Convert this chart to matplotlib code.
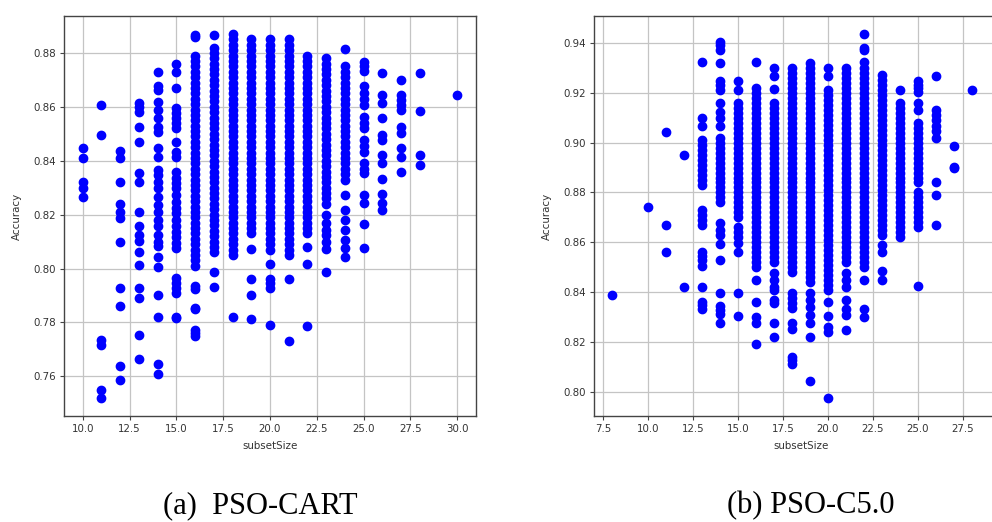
import numpy as np
import matplotlib
matplotlib.use('Agg')
import matplotlib.pyplot as plt

# accuracy of every run, grouped by subset size
# --- PSO-CART ---
cart_10 = [0.8446, 0.8409, 0.8320, 0.8298, 0.8264]
cart_11 = [0.8606, 0.8495, 0.7735, 0.7718, 0.7550, 0.7520]
cart_12 = [0.8437, 0.8410, 0.8322, 0.8240, 0.8211, 0.8187, 0.8100, 0.7927,
           0.7862, 0.7640, 0.7585]
cart_13 = [0.8615, 0.8598, 0.8582, 0.8526, 0.8470, 0.8353, 0.8322, 0.8209,
           0.8156, 0.8125, 0.8104, 0.8063, 0.8014, 0.7927, 0.7890, 0.7754, 0.7664]
cart_14 = [0.8730, 0.8677, 0.8662, 0.8619, 0.8588, 0.8557, 0.8526, 0.8507,
           0.8446, 0.8415, 0.8366, 0.8347, 0.8322, 0.8298, 0.8267, 0.8236,
           0.8211, 0.8180, 0.8156, 0.8125, 0.8100, 0.8082, 0.8044, 0.8007,
           0.7903, 0.7822, 0.7646, 0.7609]
cart_15 = [0.8758, 0.8730, 0.8668, 0.8594, 0.8576, 0.8557, 0.8539, 0.8520,
           0.8470, 0.8433, 0.8415, 0.8360, 0.8335, 0.8316, 0.8298, 0.8273,
           0.8248, 0.8224, 0.8205, 0.8180, 0.8156, 0.8136, 0.8117, 0.8095,
           0.8076, 0.7964, 0.7946, 0.7927, 0.7909, 0.7822, 0.7815]
cart_16 = [0.8866, 0.8860,
           0.879, 0.877, 0.875, 0.873, 0.871, 0.869, 0.867, 0.865, 0.863,
           0.861, 0.859, 0.857, 0.855, 0.853, 0.851, 0.849, 0.847, 0.845,
           0.843, 0.841, 0.839, 0.837, 0.835, 0.833, 0.831, 0.829, 0.827,
           0.825, 0.823, 0.821, 0.819, 0.817, 0.815, 0.813, 0.811, 0.809,
           0.807, 0.805, 0.803, 0.801,
           0.7935, 0.7925, 0.7853, 0.7850, 0.7773, 0.7762, 0.7750]
cart_17 = [0.8866,
           0.882, 0.880, 0.878, 0.876, 0.874, 0.872, 0.870, 0.868, 0.866,
           0.864, 0.862, 0.860, 0.858, 0.856, 0.854, 0.852, 0.850, 0.848,
           0.846, 0.844, 0.842, 0.840, 0.838, 0.836, 0.834, 0.832, 0.830,
           0.828, 0.826, 0.824, 0.822, 0.820, 0.818, 0.816, 0.814, 0.812,
           0.810, 0.808, 0.806,
           0.7989, 0.7933]
cart_18 = [0.887, 0.885, 0.883, 0.881, 0.879, 0.877, 0.875, 0.873, 0.871,
           0.869, 0.867, 0.865, 0.863, 0.861, 0.859, 0.857, 0.855, 0.853,
           0.851, 0.849, 0.847, 0.845, 0.843, 0.841, 0.839, 0.837, 0.835,
           0.833, 0.831, 0.829, 0.827, 0.825, 0.823, 0.821, 0.819, 0.817,
           0.815, 0.813, 0.811, 0.809, 0.807, 0.805,
           0.782]
cart_19 = [0.885, 0.883, 0.881, 0.879, 0.877, 0.875, 0.873, 0.871, 0.869,
           0.867, 0.865, 0.863, 0.861, 0.859, 0.857, 0.855, 0.853, 0.851,
           0.849, 0.847, 0.845, 0.843, 0.841, 0.839, 0.837, 0.835, 0.833,
           0.831, 0.829, 0.827, 0.825, 0.823, 0.821, 0.819, 0.817, 0.815,
           0.813,
           0.8072, 0.7961, 0.7903, 0.7813]
cart_20 = [0.885, 0.883, 0.881, 0.879, 0.877, 0.875, 0.873, 0.871, 0.869,
           0.867, 0.865, 0.863, 0.861, 0.859, 0.857, 0.855, 0.853, 0.851,
           0.849, 0.847, 0.845, 0.843, 0.841, 0.839, 0.837, 0.835, 0.833,
           0.831, 0.829, 0.827, 0.825, 0.823, 0.821, 0.819, 0.817, 0.815,
           0.813, 0.811, 0.809, 0.807,
           0.8017, 0.7961, 0.7946, 0.7927, 0.7790]
cart_21 = [0.885, 0.883, 0.881, 0.879, 0.877, 0.875, 0.873, 0.871, 0.869,
           0.867, 0.865, 0.863, 0.861, 0.859, 0.857, 0.855, 0.853, 0.851,
           0.849, 0.847, 0.845, 0.843, 0.841, 0.839, 0.837, 0.835, 0.833,
           0.831, 0.829, 0.827, 0.825, 0.823, 0.821, 0.819, 0.817, 0.815,
           0.813, 0.811, 0.809, 0.807, 0.805,
           0.7961, 0.7730]
cart_22 = [0.879, 0.877, 0.875, 0.873, 0.871, 0.869, 0.867, 0.865, 0.863,
           0.861, 0.859, 0.857, 0.855, 0.853, 0.851, 0.849, 0.847, 0.845,
           0.843, 0.841, 0.839, 0.837, 0.835, 0.833, 0.831, 0.829, 0.827,
           0.825, 0.823, 0.821, 0.819, 0.817, 0.815, 0.813,
           0.8079, 0.8017, 0.7785]
cart_23 = [0.878, 0.876, 0.874, 0.872, 0.870, 0.868, 0.866, 0.864, 0.862,
           0.860, 0.858, 0.856, 0.854, 0.852, 0.850, 0.848, 0.846, 0.844,
           0.842, 0.840, 0.838, 0.836, 0.834, 0.832, 0.830, 0.828, 0.826,
           0.824, 0.8200, 0.8170, 0.8143, 0.8125, 0.8100,
           0.8072, 0.7989]
cart_24 = [0.8813,
           0.875, 0.873, 0.871, 0.869, 0.867, 0.865, 0.863, 0.861, 0.859,
           0.857, 0.855, 0.853, 0.851, 0.849, 0.847, 0.845, 0.843, 0.841,
           0.839, 0.837, 0.835, 0.833,
           0.8273, 0.8217, 0.8180, 0.8143, 0.8106, 0.8076, 0.8044]
cart_25 = [0.8767, 0.8750, 0.8733, 0.8677, 0.8650, 0.8628, 0.8606, 0.8563,
           0.8541, 0.8520, 0.8477, 0.8455, 0.8433, 0.8390, 0.8371, 0.8353,
           0.8273, 0.8244, 0.8164, 0.8076]
cart_26 = [0.8726, 0.8643, 0.8613, 0.8557, 0.8495, 0.8477, 0.8421, 0.8390,
           0.8331, 0.8276, 0.8244, 0.8217]
cart_27 = [0.8699, 0.8643, 0.8625, 0.8606, 0.8588, 0.8526, 0.8501, 0.8446,
           0.8415, 0.8359]
cart_28 = [0.8726, 0.8585, 0.8421, 0.8384]
cart_30 = [0.8643]

cart_sizes = [10, 11, 12, 13, 14, 15, 16, 17, 18, 19, 20, 21, 22, 23, 24,
              25, 26, 27, 28, 30]
cart_acc = [cart_10, cart_11, cart_12, cart_13, cart_14, cart_15, cart_16,
            cart_17, cart_18, cart_19, cart_20, cart_21, cart_22, cart_23,
            cart_24, cart_25, cart_26, cart_27, cart_28, cart_30]

# --- PSO-C5.0 ---
c50_8 = [0.8388]
c50_10 = [0.8741]
c50_11 = [0.9041, 0.8668, 0.8562]
c50_12 = [0.8951, 0.8419]
c50_13 = [0.9326, 0.9099, 0.9065, 0.9011, 0.8991, 0.8971, 0.8951, 0.8931,
          0.8911, 0.8890, 0.8870, 0.8850, 0.8830, 0.8730, 0.8710, 0.8690,
          0.8670, 0.8562, 0.8545, 0.8529, 0.8505, 0.8419, 0.8361, 0.8348, 0.8331]
c50_14 = [0.9406, 0.9393, 0.9373, 0.9322, 0.9246, 0.9232, 0.9212, 0.9159,
          0.9125, 0.9099, 0.9065,
          0.902, 0.900, 0.898, 0.896, 0.894, 0.892, 0.890, 0.888, 0.886,
          0.884, 0.882, 0.880, 0.878, 0.876,
          0.8676, 0.8650, 0.8630, 0.8593, 0.8529, 0.8395, 0.8344, 0.8328,
          0.8312, 0.8277]
c50_15 = [0.9246, 0.9212,
          0.916, 0.914, 0.912, 0.910, 0.908, 0.906, 0.904, 0.902, 0.900,
          0.898, 0.896, 0.894, 0.892, 0.890, 0.888, 0.886, 0.884, 0.882,
          0.880, 0.878, 0.876, 0.874, 0.872, 0.870,
          0.8663, 0.8643, 0.8623, 0.8596, 0.8562, 0.8395, 0.8305]
c50_16 = [0.9326,
          0.922, 0.920, 0.918, 0.916, 0.914, 0.912, 0.910, 0.908, 0.906,
          0.904, 0.902, 0.900, 0.898, 0.896, 0.894, 0.892, 0.890, 0.888,
          0.886, 0.884, 0.882, 0.880, 0.878, 0.876, 0.874, 0.872, 0.870,
          0.868, 0.866, 0.864, 0.862, 0.860, 0.858, 0.856, 0.854, 0.852,
          0.850,
          0.8449, 0.8361, 0.8301, 0.8275, 0.8191]
c50_17 = [0.9300, 0.9266, 0.9215,
          0.916, 0.914, 0.912, 0.910, 0.908, 0.906, 0.904, 0.902, 0.900,
          0.898, 0.896, 0.894, 0.892, 0.890, 0.888, 0.886, 0.884, 0.882,
          0.880, 0.878, 0.876, 0.874, 0.872, 0.870, 0.868, 0.866, 0.864,
          0.862, 0.860, 0.858, 0.856, 0.854, 0.852,
          0.8476, 0.8449, 0.8422, 0.8408, 0.8368, 0.8355, 0.8277, 0.8218]
c50_18 = [0.930, 0.928, 0.926, 0.924, 0.922, 0.920, 0.918, 0.916, 0.914,
          0.912, 0.910, 0.908, 0.906, 0.904, 0.902, 0.900, 0.898, 0.896,
          0.894, 0.892, 0.890, 0.888, 0.886, 0.884, 0.882, 0.880, 0.878,
          0.876, 0.874, 0.872, 0.870, 0.868, 0.866, 0.864, 0.862, 0.860,
          0.858, 0.856, 0.854, 0.852, 0.850, 0.848,
          0.8398, 0.8375, 0.8355, 0.8335, 0.8275, 0.8251, 0.8140, 0.8127,
          0.8111]
c50_19 = [0.932, 0.930, 0.928, 0.926, 0.924, 0.922, 0.920, 0.918, 0.916,
          0.914, 0.912, 0.910, 0.908, 0.906, 0.904, 0.902, 0.900, 0.898,
          0.896, 0.894, 0.892, 0.890, 0.888, 0.886, 0.884, 0.882, 0.880,
          0.878, 0.876, 0.874, 0.872, 0.870, 0.868, 0.866, 0.864, 0.862,
          0.860, 0.858, 0.856, 0.854, 0.852, 0.850, 0.848, 0.846, 0.844,
          0.8398, 0.8368, 0.8339, 0.8308, 0.8277, 0.8218, 0.8044]
c50_20 = [0.9300, 0.9266,
          0.921, 0.919, 0.917, 0.915, 0.913, 0.911, 0.909, 0.907, 0.905,
          0.903, 0.901, 0.899, 0.897, 0.895, 0.893, 0.891, 0.889, 0.887,
          0.885, 0.883, 0.881, 0.879, 0.877, 0.875, 0.873, 0.871, 0.869,
          0.867, 0.865, 0.863, 0.861, 0.859, 0.857, 0.855, 0.853, 0.851,
          0.849, 0.847, 0.845, 0.843, 0.841,
          0.8361, 0.8305, 0.8259, 0.8241, 0.7976]
c50_21 = [0.930, 0.928, 0.926, 0.924, 0.922, 0.920, 0.918, 0.916, 0.914,
          0.912, 0.910, 0.908, 0.906, 0.904, 0.902, 0.900, 0.898, 0.896,
          0.894, 0.892, 0.890, 0.888, 0.886, 0.884, 0.882, 0.880, 0.878,
          0.876, 0.874, 0.872, 0.870, 0.868, 0.866, 0.864, 0.862, 0.860,
          0.858, 0.856, 0.854, 0.852,
          0.8476, 0.8449, 0.8422, 0.8368, 0.8331, 0.8308, 0.8248]
c50_22 = [0.9436, 0.9380, 0.9373, 0.9326,
          0.930, 0.928, 0.926, 0.924, 0.922, 0.920, 0.918, 0.916, 0.914,
          0.912, 0.910, 0.908, 0.906, 0.904, 0.902, 0.900, 0.898, 0.896,
          0.894, 0.892, 0.890, 0.888, 0.886, 0.884, 0.882, 0.880, 0.878,
          0.876, 0.874, 0.872, 0.870, 0.868, 0.866, 0.864, 0.862, 0.860,
          0.858, 0.856, 0.854, 0.852, 0.850,
          0.8449, 0.8331, 0.8301]
c50_23 = [0.927, 0.925, 0.923, 0.921, 0.919, 0.917, 0.915, 0.913, 0.911,
          0.909, 0.907, 0.905, 0.903, 0.901, 0.899, 0.897, 0.895, 0.893,
          0.891, 0.889, 0.887, 0.885, 0.883, 0.881, 0.879, 0.877, 0.875,
          0.873, 0.871, 0.869, 0.867, 0.865, 0.863,
          0.8589, 0.8562, 0.8486, 0.8449]
c50_24 = [0.9210,
          0.916, 0.914, 0.912, 0.910, 0.908, 0.906, 0.904, 0.902, 0.900,
          0.898, 0.896, 0.894, 0.892, 0.890, 0.888, 0.886, 0.884, 0.882,
          0.880, 0.878, 0.876, 0.874, 0.872, 0.870, 0.868, 0.866, 0.864,
          0.862]
c50_25 = [0.9246, 0.9232, 0.9219, 0.9205, 0.9159, 0.9132,
          0.908, 0.906, 0.904, 0.902, 0.900, 0.898, 0.896, 0.894, 0.892,
          0.890, 0.888, 0.886, 0.884,
          0.880, 0.878, 0.876, 0.874, 0.872, 0.870, 0.868, 0.866,
          0.8424]
c50_26 = [0.9269, 0.9132, 0.9112, 0.9092, 0.9065, 0.9045, 0.9020, 0.8844,
          0.8790, 0.8670]
c50_27 = [0.8987, 0.8904, 0.8898]
c50_28 = [0.9210]

c50_sizes = [8, 10, 11, 12, 13, 14, 15, 16, 17, 18, 19, 20, 21, 22, 23, 24,
             25, 26, 27, 28]
c50_acc = [c50_8, c50_10, c50_11, c50_12, c50_13, c50_14, c50_15, c50_16,
           c50_17, c50_18, c50_19, c50_20, c50_21, c50_22, c50_23, c50_24,
           c50_25, c50_26, c50_27, c50_28]

captions = ['(a)  PSO-CART', '(b) PSO-C5.0']

fig = plt.figure(figsize=(9.92, 5.22), dpi=100)
# right panel runs off the right edge, like in the cropped original
ax1 = fig.add_axes([0.0645, 0.2031, 0.4153, 0.7663])
ax2 = fig.add_axes([0.5988, 0.2031, 0.4173, 0.7663])


def draw_panel(ax, sizes, acc, xlim, ylim, xticks, yticks):
    ax.set_axisbelow(True)
    ax.grid(True, color='#c4c4c4', linewidth=0.9)
    for s, ys in zip(sizes, acc):
        ax.plot([s] * len(ys), ys, 'o', color='blue', markersize=6)
    ax.set_xlim(xlim)
    ax.set_ylim(ylim)
    ax.set_xticks(xticks)
    ax.set_yticks(yticks)
    ax.set_xticklabels(['%.1f' % t for t in xticks])
    ax.set_yticklabels(['%.2f' % t for t in yticks])
    ax.tick_params(labelsize=7.4, labelcolor='#333333', length=3, width=0.8,
                   color='#444444', pad=3)
    for sp in ax.spines.values():
        sp.set_color('#444444')
        sp.set_linewidth(1.0)
    ax.set_xlabel('subsetSize', fontsize=7.4, color='#333333', labelpad=5)
    ax.set_ylabel('Accuracy', fontsize=7.4, color='#333333', labelpad=8)


draw_panel(ax1, cart_sizes, cart_acc, (9.0, 31.0), (0.7453, 0.8937),
           [10.0, 12.5, 15.0, 17.5, 20.0, 22.5, 25.0, 27.5, 30.0],
           [0.76, 0.78, 0.80, 0.82, 0.84, 0.86, 0.88])
draw_panel(ax2, c50_sizes, c50_acc, (7.0, 29.0), (0.7902, 0.9509),
           [7.5, 10.0, 12.5, 15.0, 17.5, 20.0, 22.5, 25.0, 27.5, 30.0],
           [0.80, 0.82, 0.84, 0.86, 0.88, 0.90, 0.92, 0.94])

fig.text(0.262, 0.016, captions[0], ha='center', va='baseline',
         fontsize=22, family=['Liberation Serif', 'DejaVu Serif'])
fig.text(0.8175, 0.016, captions[1], ha='center', va='baseline',
         fontsize=22, family=['Liberation Serif', 'DejaVu Serif'])

fig.savefig('out.png', dpi=100)
